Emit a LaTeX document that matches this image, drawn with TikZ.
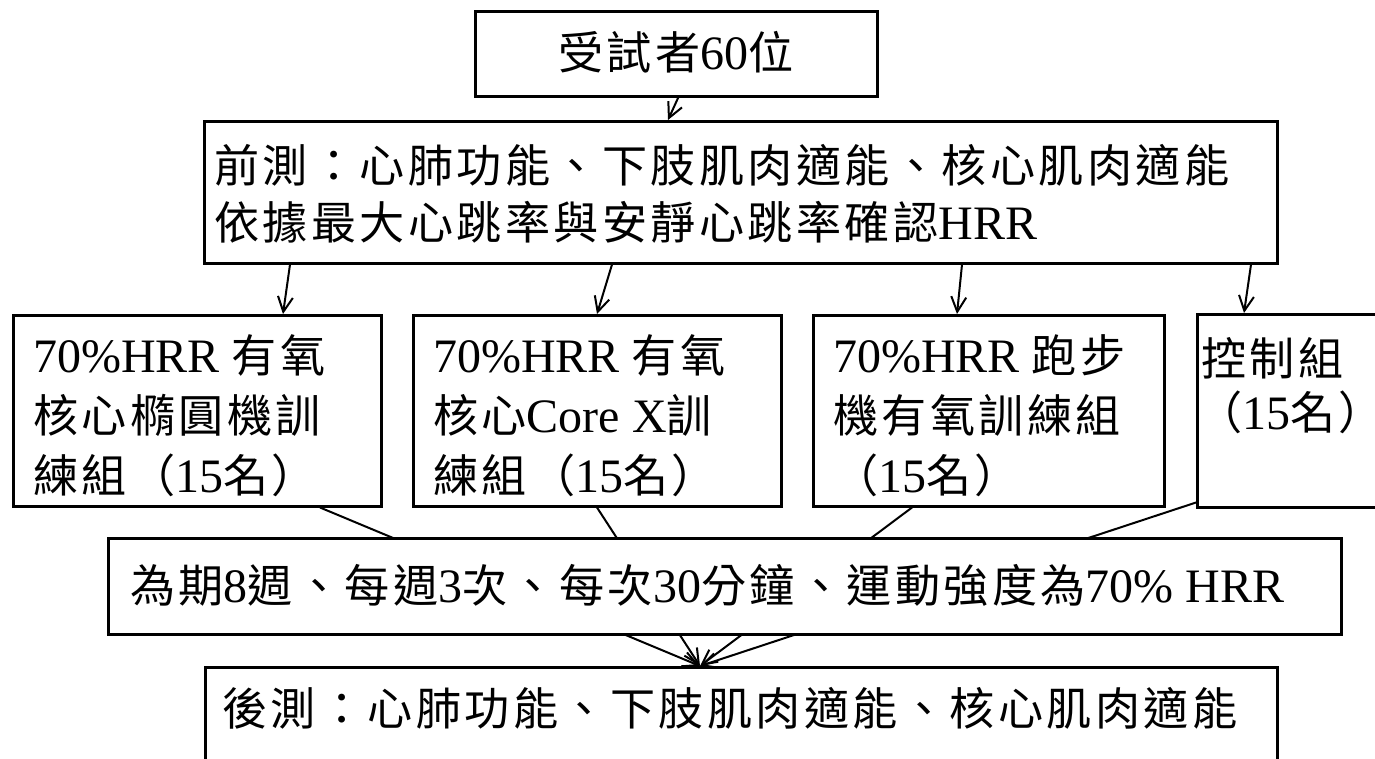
\documentclass[tikz,border=0pt]{standalone}
\usepackage{fontspec}
\setmainfont{Liberation Serif}
\newfontfamily\cjfont[Scale=0.94,LetterSpace=7.5]{Noto Sans CJK TC}
\newcommand{\zh}[1]{{\cjfont #1}}
\usetikzlibrary{arrows.meta}
\tikzset{
  box/.style={draw, line width=2.5pt, fill=white, inner sep=0pt, anchor=north west},
  txt/.style={anchor=west, inner sep=0pt, font=\fontsize{48}{60}\selectfont, text height=39pt, text depth=5pt},
  conn/.style={line width=2pt, -{Straight Barb[length=15pt,width=15pt]}},
}
\begin{document}
\begin{tikzpicture}[x=1pt,y=-1pt]
\useasboundingbox (0,0) rectangle (1375,758);
\fill[white] (0,0) rectangle (1375,758);
\clip (0,0) rectangle (1375,758);

% boxes
\node[box, minimum width=402pt, minimum height=85pt] (top) at (474,10) {};
\node[box, minimum width=1073pt, minimum height=142pt] (pre) at (203,120) {};
\node[box, minimum width=368pt, minimum height=191pt] (ga) at (12,314) {};
\node[box, minimum width=368pt, minimum height=191pt] (gb) at (412,314) {};
\node[box, minimum width=351pt, minimum height=191pt] (gc) at (812,314) {};
\node[box, minimum width=250pt, minimum height=193pt] (gd) at (1196,313) {};
\node[box, minimum width=1072pt, minimum height=150pt] (post) at (204,666) {};

% arrows
\draw[conn] ([xshift=2pt]top.south) -- ([xshift=465pt]pre.north west);
\draw[conn] ([xshift=87pt]pre.south west) -- ([xshift=271pt]ga.north west);
\draw[conn] ([xshift=409pt]pre.south west) -- ([xshift=185pt]gb.north west);
\draw[conn] ([xshift=759pt]pre.south west) -- ([xshift=145pt]gc.north west);
\draw[conn] ([xshift=1048pt]pre.south west) -- ([xshift=48pt]gd.north west);

\coordinate (meet) at ([xshift=496pt]post.north west);
\draw[conn] ([xshift=308pt]ga.south west) -- (meet);
\draw[conn] ([xshift=185pt]gb.south west) -- (meet);
\draw[conn] ([xshift=100pt]gc.south west) -- (meet);
\draw[conn] ([yshift=6pt]gd.south west) -- (meet);

% middle box drawn over the converging lines
\node[box, minimum width=1233pt, minimum height=96pt] (mid) at (107,537) {};

% texts
\node[txt] (t1) at (558,52) {\zh{受試者}60\zh{位}};
\node[txt] (p1) at (214,165) {\zh{前測：心肺功能、下肢肌肉適能、核心肌肉適能}};
\node[txt] (p2) at (214,222) {\zh{依據最大心跳率與安靜心跳率確認}HRR};

\node[txt] (a1) at (33,355) {70\%HRR \zh{有氧}};
\node[txt] (a2) at (33,415) {\zh{核心橢圓機訓}};
\node[txt] (a3) at (33,475) {\zh{練組（}15\zh{名）}};

\node[txt] (b1) at (433,355) {70\%HRR \zh{有氧}};
\node[txt] (b2) at (433,415) {\zh{核心}Core X\zh{訓}};
\node[txt] (b3) at (433,475) {\zh{練組（}15\zh{名）}};

\node[txt] (c1) at (833,355) {70\%HRR \zh{跑步}};
\node[txt] (c2) at (833,415) {\zh{機有氧訓練組}};
\node[txt] (c3) at (833,475) {\zh{（}15\zh{名）}\kern-12pt};

\node[txt] (d1) at (1201,358) {\zh{控制組}};
\node[txt] (d2) at (1197,412) {\zh{（}15\zh{名）}\kern-12pt};

\node[txt] (m1) at (130,585) {\zh{為期}8\zh{週、每週}3\zh{次、每次}30\zh{分鐘、運動強度為}70\% HRR};
\node[txt] (q1) at (222,708) {\zh{後測：心肺功能、下肢肌肉適能、核心肌肉適能}};
\end{tikzpicture}
\end{document}
